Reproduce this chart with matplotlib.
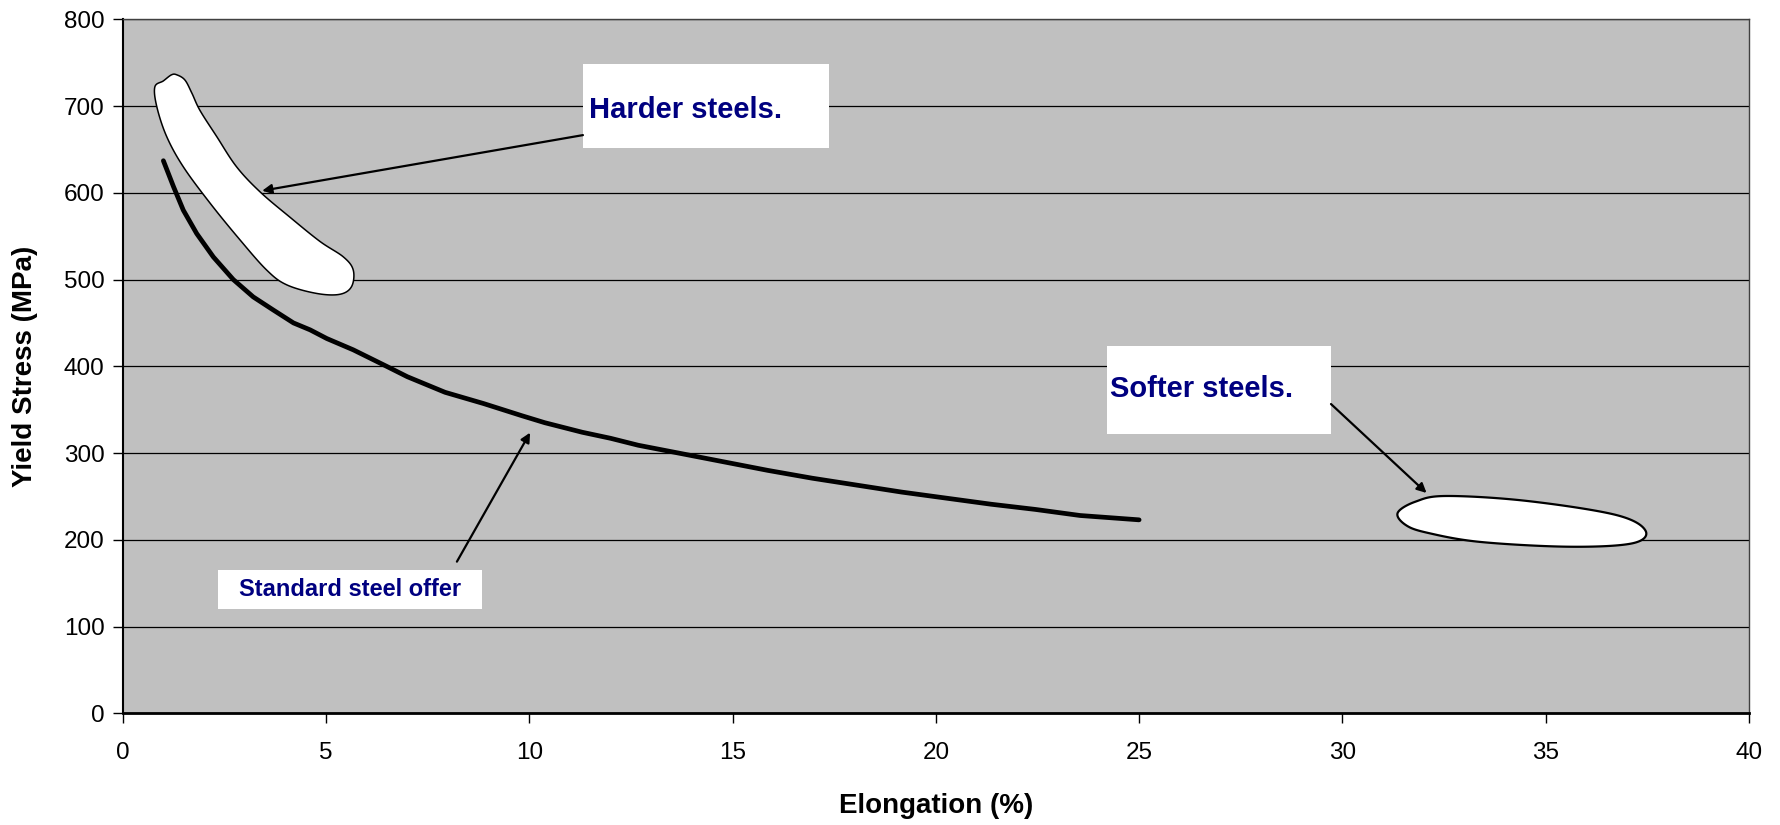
import numpy as np
import matplotlib
matplotlib.use("Agg")
import matplotlib.pyplot as plt
from matplotlib.patches import Rectangle, Polygon

plt.rcParams['font.family'] = ['Liberation Sans', 'DejaVu Sans']

# ---- data ----
elongation = [1.0, 1.25, 1.49, 1.82, 2.23, 2.72, 3.21, 3.70, 4.2, 4.61, 5.02, 5.67,
              6.49, 7.0, 7.93, 8.88, 9.82, 10.38, 11.3, 12.0, 12.68, 13.67, 14.77,
              15.87, 16.96, 18.06, 19.16, 20.26, 21.36, 22.45, 23.55, 25.0]
yield_stress = [637, 607, 580, 553, 526, 500, 480, 465, 450, 442, 432, 419,
                400, 388, 370, 357, 343, 335, 324, 317, 309, 300, 290,
                280, 271, 263, 255, 248, 241, 235, 228, 223]

x_ticks = [0, 5, 10, 15, 20, 25, 30, 35, 40]
y_ticks = [0, 100, 200, 300, 400, 500, 600, 700, 800]

# outlines of the highlighted regions (data units)
harder_x = [1.33, 1.53, 1.70, 1.90, 2.31, 2.80, 3.38, 4.11, 4.85, 5.43, 5.67, 5.63,
            5.34, 4.77, 4.03, 3.54, 2.88, 2.15, 1.49, 1.08, 0.84, 0.79, 1.0, 1.2]
harder_y = [736, 730, 715, 695, 665, 630, 601, 572, 544, 526, 511, 492,
            483, 484, 494, 511, 546, 588, 630, 665, 699, 722, 729, 736]
softer_x = [31.36, 31.8, 32.55, 34.5, 36.7, 37.45, 37.14, 35.6, 33.4, 32.1, 31.56]
softer_y = [231, 244, 250.5, 245, 229, 211, 196, 192, 197.5, 208, 217]

labels = ["Harder steels.", "Softer steels.", "Standard steel offer"]


def smooth_closed(xs, ys, n=20):
    xs = np.asarray(xs, float); ys = np.asarray(ys, float)
    m = len(xs)
    out_x, out_y = [], []
    for i in range(m):
        p0 = np.array([xs[(i - 1) % m], ys[(i - 1) % m]])
        p1 = np.array([xs[i], ys[i]])
        p2 = np.array([xs[(i + 1) % m], ys[(i + 1) % m]])
        p3 = np.array([xs[(i + 2) % m], ys[(i + 2) % m]])
        for t in np.linspace(0, 1, n, endpoint=False):
            t2, t3 = t * t, t * t * t
            pt = 0.5 * ((2 * p1) + (-p0 + p2) * t + (2 * p0 - 5 * p1 + 4 * p2 - p3) * t2
                        + (-p0 + 3 * p1 - 3 * p2 + p3) * t3)
            out_x.append(pt[0]); out_y.append(pt[1])
    return np.column_stack([out_x, out_y])


fig = plt.figure(figsize=(17.81, 8.25), dpi=100)
ax = fig.add_axes([0.0689, 0.1354, 0.9131, 0.8412])
ax.set_facecolor('#C0C0C0')
ax.set_xlim(0, 40)
ax.set_ylim(0, 800)
ax.set_xticks(x_ticks)
ax.set_yticks(y_ticks)
ax.tick_params(axis='both', labelsize=17.5, length=7, width=1, color='black', direction='out')
ax.tick_params(axis='x', pad=14)
ax.tick_params(axis='y', pad=6)
ax.yaxis.grid(True, color='black', linewidth=0.9)
ax.set_axisbelow(True)
for s in ['top', 'right']:
    ax.spines[s].set_color('#404040')
    ax.spines[s].set_linewidth(1)
ax.spines['left'].set_linewidth(1.5)
ax.spines['bottom'].set_linewidth(2)

fig.text(0.5 * (0.0689 + 0.982), 1 - 806 / 825, "Elongation (%)", fontsize=20,
         fontweight='bold', ha='center', va='center')
fig.text(25 / 1781, 0.1354 + 0.8412 / 2, "Yield Stress (MPa)", fontsize=20,
         fontweight='bold', ha='center', va='center', rotation=90)

# main curve
ax.plot(elongation, yield_stress, color='black', linewidth=3.4,
        solid_capstyle='round', solid_joinstyle='round', zorder=5)

# regions
ax.add_patch(Polygon(smooth_closed(harder_x, harder_y), closed=True, facecolor='white',
                     edgecolor='black', linewidth=1.1, zorder=4))
ax.add_patch(Polygon(smooth_closed(softer_x, softer_y), closed=True, facecolor='white',
                     edgecolor='black', linewidth=1.6, zorder=4))

navy = '#000080'
# text boxes
ax.add_patch(Rectangle((11.32, 651.6), 6.05, 96.9, facecolor='white', edgecolor='none', zorder=6))
ax.text(11.48, 696, labels[0], fontsize=21, fontweight='bold', color=navy,
        ha='left', va='center', zorder=7)
ax.add_patch(Rectangle((24.21, 322), 5.51, 101.4, facecolor='white', edgecolor='none', zorder=6))
ax.text(24.28, 374, labels[1], fontsize=21, fontweight='bold', color=navy,
        ha='left', va='center', zorder=7)
ax.add_patch(Rectangle((2.34, 120), 6.5, 45, facecolor='white', edgecolor='none', zorder=6))
ax.text(5.59, 142.5, labels[2], fontsize=17, fontweight='bold', color=navy,
        ha='center', va='center', zorder=7)

arrow = dict(arrowstyle='-|>', color='black', lw=1.6, mutation_scale=14, shrinkA=0, shrinkB=0)
ax.annotate('', xy=(3.43, 602.4), xytext=(11.32, 666.5), arrowprops=arrow, zorder=8)
ax.annotate('', xy=(32.07, 254), xytext=(29.72, 356.5), arrowprops=arrow, zorder=8)
ax.annotate('', xy=(10.02, 323.5), xytext=(8.22, 174.8), arrowprops=arrow, zorder=8)

fig.savefig('out.png', dpi=100)
